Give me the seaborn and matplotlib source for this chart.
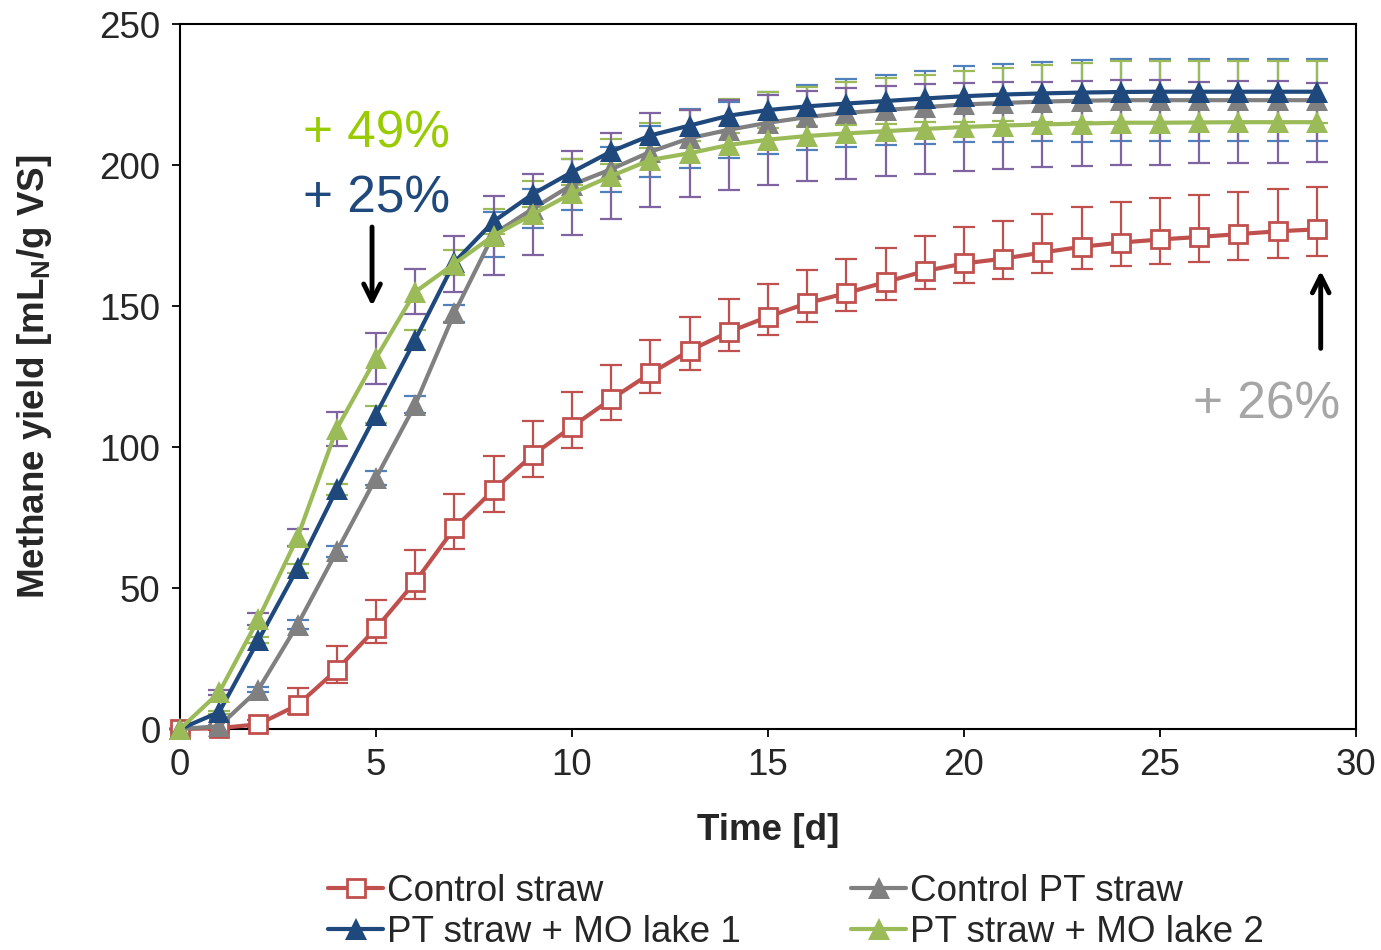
import numpy as np
import pandas as pd
import matplotlib
matplotlib.use("Agg")
import matplotlib.pyplot as plt
import seaborn as sns

# data (methane yield, mL_N / g VS)
days = list(range(30))

control_straw = [0, 0.3, 1.7, 8.5, 21, 35.7, 52.2, 71.2, 84.8, 97.2, 107.2, 117, 126.1, 134.2, 140.8,
                 146.2, 151, 154.6, 158.5, 162.4, 165.1, 166.8, 169, 171, 172.5, 173.6, 174.5, 175.5,
                 176.5, 177.2]
control_straw_err_hi = [0, 0.5, 1.5, 6, 8.5, 10, 11.3, 12, 12, 12, 12.2, 12, 12, 11.8, 11.7, 11.6, 11.8,
                        12, 12.2, 12.4, 12.8, 13.3, 13.6, 14, 14.3, 14.6, 14.8, 15, 15, 15]
control_straw_err_lo = [0, 0.5, 1, 3, 4.7, 5.3, 6.1, 7.3, 8, 7.7, 7.4, 7.3, 7, 7, 6.8, 6.5, 6.5, 6.5,
                        6.5, 6.5, 6.8, 7.1, 7.4, 7.8, 8.3, 8.8, 9, 9.2, 9.4, 9.5]

control_pt = [0, 1, 14, 37, 63, 89, 115, 147.5, 175.5, 184.5, 193, 198.5, 204.7, 209.5, 212.5, 215,
              217, 218.5, 219.5, 220.5, 221.5, 222, 222.5, 222.8, 223, 223, 223, 223, 223, 223]
control_pt_err = [0, 0.5, 1, 1.5, 2, 2.5, 3, 3, 8, 7, 9, 8, 9, 10.5, 10, 11, 11.5, 12, 12.5, 13,
                  13.5, 14, 14, 14.5, 14.5, 14.5, 14.5, 14.5, 14.5, 14.5]

lake1 = [0, 6, 31.5, 57, 85, 111.5, 138, 165.5, 180, 189.7, 197.5, 204.8, 210.5, 214, 217.5, 219.5,
         220.8, 221.8, 222.7, 223.6, 224.4, 225, 225.4, 225.7, 225.9, 226, 226, 226, 226, 226]
lake1_err = [0, 0.5, 1, 1.5, 2, 3, 3.5, 4.5, 4.5, 4.5, 4.7, 4.6, 4.5, 5.5, 6, 6.5, 7, 7.5, 8, 8.5,
             9, 9.5, 10, 10.5, 11, 11, 11, 11, 11, 11]

lake2 = [0, 13, 39, 68, 106.5, 131.5, 155, 165, 175, 182.5, 190, 196.1, 201.8, 204.2, 207.1, 209,
         210.3, 211.2, 212, 212.8, 213.5, 214, 214.4, 214.7, 215, 215, 215.1, 215.2, 215.2, 215.2]
lake2_err = [0, 1, 2, 3, 6, 9, 8, 10, 14, 14.3, 14.8, 15.4, 16.6, 15.4, 16, 16, 16, 16, 16, 16,
             15.5, 15.5, 15, 15, 15, 15, 14.5, 14.5, 14.5, 14]

labels = ["Control straw", "Control PT straw", "PT straw + MO lake 1", "PT straw + MO lake 2"]

df = pd.DataFrame({"day": days, "cs": control_straw, "cpt": control_pt, "l1": lake1, "l2": lake2})

sns.set_theme(style="white")
plt.rcParams["font.family"] = ["Liberation Sans", "DejaVu Sans"]
plt.rcParams["mathtext.fontset"] = "custom"
plt.rcParams["mathtext.rm"] = "Liberation Sans"
plt.rcParams["mathtext.bf"] = "Liberation Sans:bold"

fig, ax = plt.subplots(figsize=(13.81, 9.5), dpi=100)
fig.subplots_adjust(left=0.1303, right=0.9819, top=0.9747, bottom=0.2326)

red, grey, dblue, green = "#C0504D", "#808080", "#1F497D", "#9BBB59"
ltblue, purple = "#4F81BD", "#8064A2"

# error bars (behind the lines)
eb = dict(fmt="none", capsize=8, elinewidth=1.6, capthick=1.6, zorder=2, clip_on=False)
ax.errorbar(days, control_straw, yerr=[control_straw_err_lo, control_straw_err_hi], ecolor=red, **eb)
ax.errorbar(days, control_pt, yerr=control_pt_err, ecolor=ltblue, **eb)
ax.errorbar(days, lake1, yerr=lake1_err, ecolor=green, **eb)
ax.errorbar(days, lake2, yerr=lake2_err, ecolor=purple, **eb)

# series
sns.lineplot(data=df, x="day", y="cs", ax=ax, color=red, lw=3, marker="s", markersize=13,
             markerfacecolor="white", markeredgecolor=red, markeredgewidth=2, label=labels[0],
             zorder=3, clip_on=False)
sns.lineplot(data=df, x="day", y="cpt", ax=ax, color=grey, lw=3, marker="^", markersize=16,
             markeredgewidth=0, label=labels[1], zorder=4, clip_on=False)
sns.lineplot(data=df, x="day", y="l1", ax=ax, color=dblue, lw=3, marker="^", markersize=16,
             markeredgewidth=0, label=labels[2], zorder=5, clip_on=False)
sns.lineplot(data=df, x="day", y="l2", ax=ax, color=green, lw=3, marker="^", markersize=16,
             markeredgewidth=0, label=labels[3], zorder=6, clip_on=False)

ax.set_xlim(0, 30)
ax.set_ylim(0, 250)
ax.set_xticks(range(0, 31, 5))
ax.set_yticks(range(0, 251, 50))
ax.tick_params(axis="both", direction="out", length=6, width=1.3, labelsize=26.5, color="black",
               left=True, bottom=True, pad=8)
for s in ax.spines.values():
    s.set_color("black")
    s.set_linewidth(1.5)

ax.set_xlabel("Time [d]", fontsize=26.5, fontweight="bold", labelpad=21)
ax.set_ylabel(r"Methane yield [mL$_\mathbf{N}$/g VS]", fontsize=26.5, fontweight="bold", labelpad=33)

# annotations
ax.text(6.9, 211, "+ 49%", color="#99CC00", fontsize=37, ha="right", va="center")
ax.text(6.9, 188, "+ 25%", color="#1F497D", fontsize=37, ha="right", va="center")
ax.text(29.6, 115, "+ 26%", color="#A6A6A6", fontsize=37, ha="right", va="center")
ax.annotate("", xy=(4.9, 149), xytext=(4.9, 179),
            arrowprops=dict(arrowstyle="->", color="black", lw=3.5, mutation_scale=30))
ax.annotate("", xy=(29.1, 163.5), xytext=(29.1, 134),
            arrowprops=dict(arrowstyle="->", color="black", lw=3.5, mutation_scale=30))

# legend filled row by row: (straw, PT straw) / (lake 1, lake 2)
handles, labs = ax.get_legend_handles_labels()
ax.legend_.remove()
order = [0, 2, 1, 3]
fig.legend([handles[i] for i in order], [labs[i] for i in order], ncol=2, loc="upper left",
           bbox_to_anchor=(328 / 1381, 1 - 874 / 950), frameon=False, fontsize=26.5,
           handlelength=1.5, handletextpad=0.1, columnspacing=3.0, labelspacing=0.15,
           borderpad=0, borderaxespad=0)

fig.savefig("out.png", dpi=100)
